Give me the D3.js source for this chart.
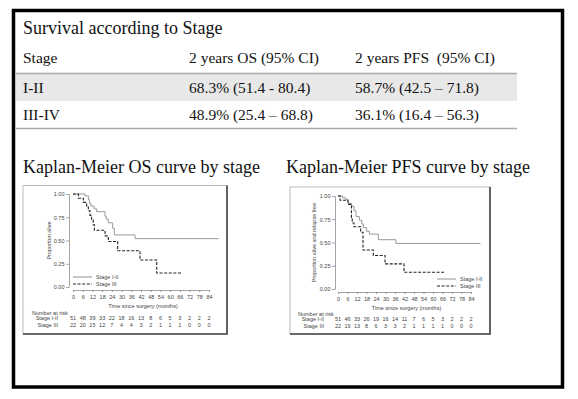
<!DOCTYPE html>
<html>
<head>
<meta charset="utf-8">
<script src="https://cdn.jsdelivr.net/npm/d3@7"></script>
<style>
  body { margin: 0; background: #fff; }
  .serif { font-family: "Liberation Serif", "Times New Roman", serif; fill: #111; }
  .small { font-family: "Liberation Sans", Arial, sans-serif; font-size: 5.5px; fill: #444; }
  .axis text { font-family: "Liberation Sans", Arial, sans-serif; font-size: 5.5px; fill: #444; }
  .axis path, .axis line { stroke: #666; stroke-width: 0.6; }
</style>
</head>
<body>
<div id="chart"></div>
<script>
// table
const tableHeader = ["Stage", "2 years OS (95% CI)", "2 years PFS  (95% CI)"];
const stages = ["I-II", "III-IV"];
const osValues = ["68.3% (51.4 - 80.4)", "48.9% (25.4 \u2013 68.8)"];
const pfsValues = ["58.7% (42.5 \u2013 71.8)", "36.1% (16.4 \u2013 56.3)"];

// x ticks (months) and y ticks
const months = [0, 6, 12, 18, 24, 30, 36, 42, 48, 54, 60, 66, 72, 78, 84];
const propTicks = [0, 0.25, 0.5, 0.75, 1];

// Kaplan-Meier steps: [month, proportion]
const osEarly = [[0, 1], [7.4, 0.98], [9.5, 0.94], [10.2, 0.9], [11.1, 0.87], [13, 0.84], [14.6, 0.81],
  [19.8, 0.76], [20.5, 0.73], [21.8, 0.69], [24.5, 0.63], [25.5, 0.56], [38.3, 0.52], [90, 0.52]];
const osLate = [[0, 1], [3.3, 0.955], [6.4, 0.91], [8.4, 0.86], [9.5, 0.82], [10.5, 0.77], [11.5, 0.72],
  [12.5, 0.67], [13.2, 0.61], [19.8, 0.55], [21.8, 0.49], [27.6, 0.39], [41.4, 0.29], [51.7, 0.15], [67, 0.15]];
const pfsEarly = [[0, 1], [2.9, 0.98], [5, 0.96], [6.5, 0.92], [8.6, 0.89], [10.1, 0.84], [11.4, 0.78],
  [13.5, 0.74], [15, 0.7], [16, 0.66], [18.1, 0.62], [19.8, 0.59], [25.5, 0.53], [36.6, 0.49], [90, 0.49]];
const pfsLate = [[0, 1], [1.3, 0.955], [6.3, 0.91], [8.5, 0.77], [9, 0.71], [10.1, 0.67], [14.3, 0.61],
  [15.8, 0.42], [22.3, 0.36], [29.7, 0.27], [41.7, 0.18], [68, 0.18]];

// number at risk
const osRiskEarly = [51, 48, 39, 33, 22, 18, 16, 13, 8, 6, 5, 3, 2, 2, 2];
const osRiskLate = [22, 20, 15, 12, 7, 4, 4, 3, 2, 1, 1, 1, 0, 0, 0];
const pfsRiskEarly = [51, 46, 33, 26, 19, 16, 14, 11, 7, 6, 5, 3, 2, 2, 2];
const pfsRiskLate = [22, 19, 13, 8, 6, 3, 3, 2, 1, 1, 1, 1, 0, 0, 0];

const svg = d3.select("#chart").append("svg")
    .attr("width", 578)
    .attr("height", 399);

svg.append("rect")
    .attr("x", 13.5).attr("y", 10.5)
    .attr("width", 549).attr("height", 376.5)
    .attr("fill", "#fff")
    .attr("stroke", "#000")
    .attr("stroke-width", 3.5);

svg.append("text")
    .attr("class", "serif")
    .attr("x", 23).attr("y", 34)
    .style("font-size", "18px")
    .text("Survival according to Stage");

// table body
const colX = [23, 189, 355];
svg.append("rect")
    .attr("x", 16).attr("y", 74)
    .attr("width", 501).attr("height", 27)
    .attr("fill", "#e8e8e8");

[73.5, 128.5].forEach(y => {
    svg.append("line")
        .attr("x1", 16).attr("x2", 517)
        .attr("y1", y).attr("y2", y)
        .attr("stroke", "#aaa").attr("stroke-width", 1.5);
});

svg.selectAll(".head")
    .data(tableHeader)
  .enter().append("text")
    .attr("class", "serif")
    .attr("x", (d, i) => colX[i])
    .attr("y", 63)
    .style("font-size", "15.5px")
    .style("white-space", "pre")
    .text(d => d);

stages.forEach((s, r) => {
    const y = r === 0 ? 93 : 120;
    [s, osValues[r], pfsValues[r]].forEach((t, i) => {
        svg.append("text")
            .attr("class", "serif")
            .attr("x", colX[i]).attr("y", y)
            .style("font-size", "15.5px")
            .text(t);
    });
});

svg.append("text").attr("class", "serif")
    .attr("x", 23).attr("y", 173)
    .style("font-size", "18px")
    .text("Kaplan-Meier OS curve by stage");

svg.append("text").attr("class", "serif")
    .attr("x", 286).attr("y", 173)
    .style("font-size", "18px")
    .text("Kaplan-Meier PFS curve by stage");

function drawKM(cfg) {
    const g = svg.append("g");

    g.append("rect")
        .attr("x", cfg.box[0]).attr("y", cfg.box[1])
        .attr("width", cfg.box[2] - cfg.box[0]).attr("height", cfg.box[3] - cfg.box[1])
        .attr("fill", "#fff").attr("stroke", "#bbb").attr("stroke-width", 1);
    g.append("path")
        .attr("d", `M${cfg.box[2]},${cfg.box[1]}V${cfg.box[3]}H${cfg.box[0]}`)
        .attr("fill", "none").attr("stroke", "#444").attr("stroke-width", 1.6);

    const x = d3.scaleLinear().domain([0, 84]).range(cfg.xRange);
    const y = d3.scaleLinear().domain([0, 1]).range(cfg.yRange);

    g.append("g")
        .attr("class", "axis")
        .attr("transform", `translate(${cfg.yAxisX},0)`)
        .call(d3.axisLeft(y).tickValues(propTicks).tickFormat(d3.format(".2f"))
            .tickSize(3).tickSizeOuter(0).tickPadding(1.5));

    g.append("g")
        .attr("class", "axis")
        .attr("transform", `translate(0,${cfg.xAxisY})`)
        .call(d3.axisBottom(x).tickValues(months).tickSize(2).tickSizeOuter(0).tickPadding(3));

    g.append("text").attr("class", "small")
        .attr("x", (cfg.xRange[0] + cfg.xRange[1]) / 2 + 2)
        .attr("y", cfg.xAxisY + 18)
        .attr("text-anchor", "middle")
        .text("Time since surgery (months)");

    g.append("text").attr("class", "small")
        .attr("transform", `translate(${cfg.yTitleX},${(cfg.yRange[0] + cfg.yRange[1]) / 2}) rotate(-90)`)
        .attr("text-anchor", "middle")
        .text(cfg.yTitle);

    const line = d3.line()
        .x(d => x(d[0]))
        .y(d => y(d[1]))
        .curve(d3.curveStepAfter);

    g.append("path").datum(cfg.early)
        .attr("d", line)
        .attr("fill", "none").attr("stroke", "#999").attr("stroke-width", 1);
    g.append("path").datum(cfg.late)
        .attr("d", line)
        .attr("fill", "none").attr("stroke", "#222").attr("stroke-width", 1.1)
        .attr("stroke-dasharray", "3,1.6");

    // legend
    const lg = g.append("g").attr("transform", `translate(${cfg.legend[0]},${cfg.legend[1]})`);
    [["Stage I-II", "#999", null], ["Stage III", "#222", "3,1.6"]].forEach((d, i) => {
        lg.append("line")
            .attr("x1", 0).attr("x2", 19)
            .attr("y1", i * 7).attr("y2", i * 7)
            .attr("stroke", d[1]).attr("stroke-width", 1.1)
            .attr("stroke-dasharray", d[2]);
        lg.append("text").attr("class", "small")
            .attr("x", 23).attr("y", i * 7).attr("dy", "0.35em")
            .text(d[0]);
    });

    // number at risk
    const ry = cfg.riskY;
    g.append("text").attr("class", "small")
        .attr("x", cfg.riskLabelX - 26).attr("y", ry).attr("dy", "0.35em")
        .text("Number at risk");
    [["Stage I-II", cfg.riskEarly], ["Stage III", cfg.riskLate]].forEach((row, i) => {
        const yy = ry + 5 + i * 7;
        g.append("text").attr("class", "small")
            .attr("x", cfg.riskLabelX).attr("y", yy).attr("dy", "0.35em")
            .attr("text-anchor", "end")
            .text(row[0]);
        g.selectAll(null)
            .data(row[1])
          .enter().append("text")
            .attr("class", "small")
            .attr("x", (d, j) => x(months[j]))
            .attr("y", yy).attr("dy", "0.35em")
            .attr("text-anchor", "middle")
            .text(d => d);
    });
}

drawKM({
    box: [23, 185.5, 227, 334],
    xRange: [73, 209], yRange: [287, 194],
    yAxisX: 69, xAxisY: 290,
    yTitle: "Proportion alive", yTitleX: 51,
    early: osEarly, late: osLate,
    legend: [73, 277],
    riskY: 313.5, riskLabelX: 58,
    riskEarly: osRiskEarly, riskLate: osRiskLate
});

drawKM({
    box: [290, 187, 490, 334],
    xRange: [338, 471], yRange: [289, 196],
    yAxisX: 335, xAxisY: 292,
    yTitle: "Proportion alive and relapse free", yTitleX: 316,
    early: pfsEarly, late: pfsLate,
    legend: [437, 279],
    riskY: 314, riskLabelX: 324,
    riskEarly: pfsRiskEarly, riskLate: pfsRiskLate
});
</script>
</body>
</html>
